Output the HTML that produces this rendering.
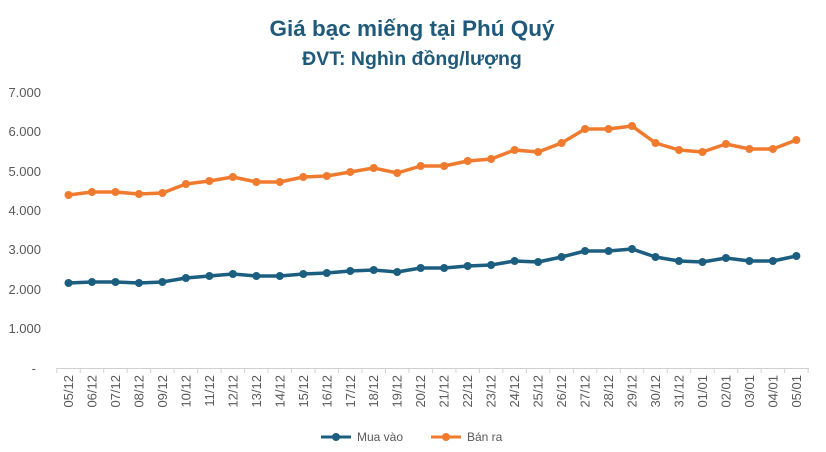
<!DOCTYPE html>
<html><head><meta charset="utf-8"><style>
html,body{margin:0;padding:0;background:#fff;}
svg{display:block;font-family:"Liberation Sans",sans-serif;}
</style></head><body>
<svg width="826" height="452" viewBox="0 0 826 452">
<text x="412" y="36" text-anchor="middle" font-size="22.5" font-weight="bold" fill="#1f5a7a">Giá bạc miếng tại Phú Quý</text>
<text x="412" y="65" text-anchor="middle" font-size="19.5" font-weight="bold" fill="#1f5a7a">ĐVT: Nghìn đồng/lượng</text>
<g font-size="13" fill="#595959" text-anchor="end">
<text x="41" y="97">7.000</text><text x="41" y="136">6.000</text><text x="41" y="176">5.000</text>
<text x="41" y="215">4.000</text><text x="41" y="254">3.000</text><text x="41" y="294">2.000</text>
<text x="41" y="333">1.000</text><text x="36" y="373">-</text>
</g>
<line x1="57" y1="368.5" x2="809" y2="368.5" stroke="#d0d0d0" stroke-width="1"/>
<g id="ticks" stroke="#d0d0d0"></g>
<g id="labels" font-size="13" fill="#595959"></g>
<polyline id="o" fill="none" stroke="#f07b2f" stroke-width="3.5" stroke-linejoin="round"/>
<polyline id="b" fill="none" stroke="#1b5e80" stroke-width="3.5" stroke-linejoin="round"/>
<g id="om" fill="#f07b2f"></g><g id="bm" fill="#1b5e80"></g>
<line x1="321" y1="437" x2="351" y2="437" stroke="#1b5e80" stroke-width="3"/><circle cx="336" cy="437" r="4" fill="#1b5e80"/>
<text x="357" y="441" font-size="12" fill="#595959">Mua vào</text>
<line x1="431" y1="437" x2="461" y2="437" stroke="#f07b2f" stroke-width="3"/><circle cx="446" cy="437" r="4" fill="#f07b2f"/>
<text x="467" y="441" font-size="12" fill="#595959">Bán ra</text>
</svg>
<script>
var labs=["05/12","06/12","07/12","08/12","09/12","10/12","11/12","12/12","13/12","14/12","15/12","16/12","17/12","18/12","19/12","20/12","21/12","22/12","23/12","24/12","25/12","26/12","27/12","28/12","29/12","30/12","31/12","01/01","02/01","03/01","04/01","05/01"];
var o=[195,192,192,194,193,184,181,177,182,182,177,176,172,168,173,166,166,161,159,150,152,143,129,129,126,143,150,152,144,149,149,140];
var b=[283,282,282,283,282,278,276,274,276,276,274,273,271,270,272,268,268,266,265,261,262,257,251,251,249,257,261,262,258,261,261,256];
var NS="http://www.w3.org/2000/svg",sp=23.48,x0=68.5;
function el(t,a,p){var e=document.createElementNS(NS,t);for(var k in a)e.setAttribute(k,a[k]);document.getElementById(p).appendChild(e);return e;}
var po=[],pb=[];
for(var i=0;i<32;i++){var x=x0+sp*i;po.push(x+","+o[i]);pb.push(x+","+b[i]);
el("circle",{cx:x,cy:o[i],r:4},"om");el("circle",{cx:x,cy:b[i],r:4},"bm");
var t=el("text",{x:0,y:0,"text-anchor":"end",transform:"translate("+(x+4.5)+",375) rotate(-90)"},"labels");t.textContent=labs[i];}
for(var i=0;i<=32;i++){var x=x0-sp/2+sp*i;el("line",{x1:x,y1:368,x2:x,y2:373},"ticks");}
document.getElementById("o").setAttribute("points",po.join(" "));
document.getElementById("b").setAttribute("points",pb.join(" "));
</script>
</body></html>
